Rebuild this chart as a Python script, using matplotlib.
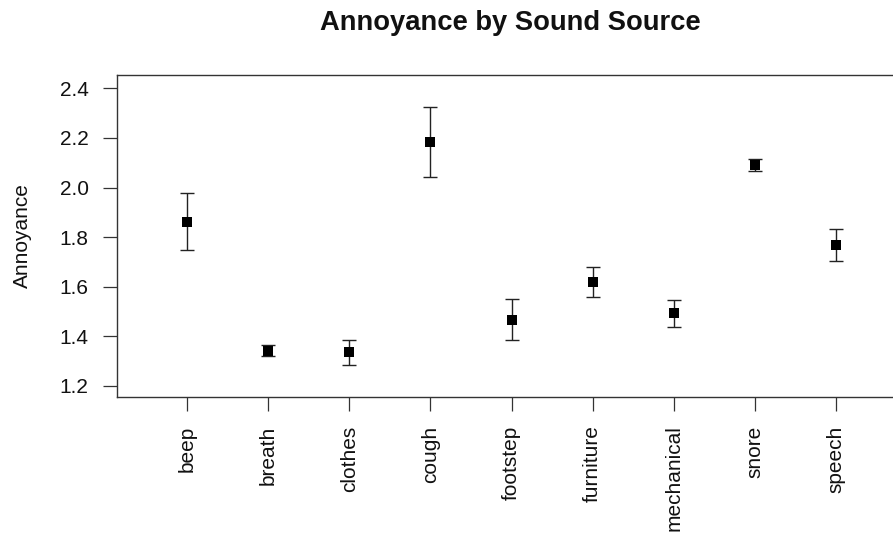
import matplotlib
matplotlib.use("Agg")
import matplotlib.pyplot as plt
import numpy as np

plt.rcParams['font.family'] = ['Liberation Sans', 'DejaVu Sans']

categories = ["beep", "breath", "clothes", "cough", "footstep",
              "furniture", "mechanical", "snore", "speech"]
means = [1.862, 1.343, 1.336, 2.182, 1.467, 1.619, 1.493, 2.092, 1.769]
upper = [1.978, 1.365, 1.387, 2.325, 1.551, 1.679, 1.548, 2.117, 1.834]
lower = [1.747, 1.322, 1.285, 2.041, 1.385, 1.559, 1.437, 2.068, 1.703]
yticks = [1.2, 1.4, 1.6, 1.8, 2.0, 2.2, 2.4]
title = "Annoyance by Sound Source"
ylabel = "Annoyance"

W, H = 893, 534
fig = plt.figure(figsize=(W / 100, H / 100), dpi=100)
left, right, top, bottom = 117, 903, 75, 397
ax = fig.add_axes([left / W, 1 - bottom / H, (right - left) / W, (bottom - top) / H])

x = np.arange(1, len(categories) + 1)
m = np.array(means)
yerr = np.vstack([m - np.array(lower), np.array(upper) - m])
ax.errorbar(x, m, yerr=yerr, fmt='none', ecolor='#222222',
            elinewidth=1.0, capsize=5.3, capthick=1.0)
ax.plot(x, m, linestyle='none', marker='s', color='black',
        markersize=7.3, markeredgewidth=0, zorder=3)

ax.set_xlim(1 - 70 / 81.1, 9 + 67 / 81.1)
ax.set_ylim(1.2 - 11 / 248, 2.4 + 13.3 / 248)
ax.set_yticks(yticks)
ax.set_yticklabels([f"{v:.1f}" for v in yticks])
ax.set_xticks(x)
ax.set_xticklabels(categories, rotation=90)

ax.tick_params(axis='both', direction='out', length=10, width=0.9,
               color='#333333', labelsize=15, labelcolor='#111111')
ax.tick_params(axis='y', pad=10.5)
ax.tick_params(axis='x', pad=10.5)
for s in ax.spines.values():
    s.set_color('#333333')
    s.set_linewidth(1.0)

ax.set_ylabel(ylabel, fontsize=15, labelpad=20, color='#111111')
fig.text(510 / W, 1 - 29.5 / H, title, ha='center', va='baseline',
         fontsize=19.7, fontweight='bold', color='#111111')

fig.savefig("out.png", dpi=100)
